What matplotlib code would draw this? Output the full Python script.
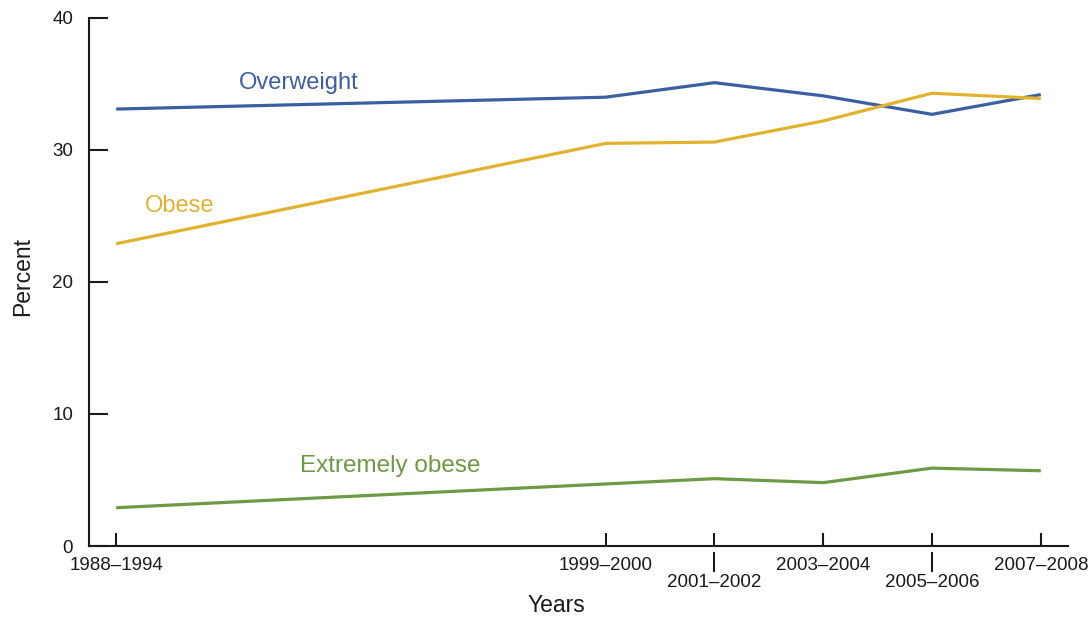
"""Overweight / obesity prevalence trend chart, 1988-1994 through 2007-2008."""

from __future__ import annotations

import matplotlib

matplotlib.use("Agg")
import matplotlib.pyplot as plt
from matplotlib.ticker import FixedLocator, FixedFormatter

plt.rcParams["font.family"] = ["Liberation Sans", "DejaVu Sans"]

# survey periods (midpoint year used as the x position)
PERIODS = ["1988–1994", "1999–2000", "2001–2002", "2003–2004", "2005–2006", "2007–2008"]
PERIOD_MID = [1990.5, 1999.5, 2001.5, 2003.5, 2005.5, 2007.5]
LOWER_LABELS = {"2001–2002", "2005–2006"}  # staggered labels

OVERWEIGHT = [33.1, 34.0, 35.1, 34.1, 32.7, 34.2]
OBESE = [22.9, 30.5, 30.6, 32.2, 34.3, 33.9]
EXTREMELY_OBESE = [2.9, 4.7, 5.1, 4.8, 5.9, 5.7]

Y_TICKS = [0, 10, 20, 30, 40]

BLUE = "#3b5fa3"
GOLD = "#e2b22f"
GREEN = "#6e9a44"
INK = "#1a1a1a"


def draw_series(ax) -> None:
    ax.plot(PERIOD_MID, OVERWEIGHT, color=BLUE, lw=2.3, solid_capstyle="butt", zorder=3)
    ax.plot(PERIOD_MID, OBESE, color=GOLD, lw=2.3, solid_capstyle="butt", zorder=3)
    ax.plot(PERIOD_MID, EXTREMELY_OBESE, color=GREEN, lw=2.3, solid_capstyle="butt", zorder=3)

    ax.text(1993.85, 34.6, "Overweight", color=BLUE, fontsize=17, ha="center", va="baseline")
    ax.text(1991.67, 25.3, "Obese", color=GOLD, fontsize=17, ha="center", va="baseline")
    ax.text(1995.54, 5.6, "Extremely obese", color=GREEN, fontsize=17.5,
            ha="center", va="baseline")


def style_axes(ax) -> None:
    ax.set_xlim(1990.0, 2008.0)
    ax.set_ylim(0, 40)

    for side in ("top", "right"):
        ax.spines[side].set_visible(False)
    for side in ("left", "bottom"):
        ax.spines[side].set_linewidth(1.5)
        ax.spines[side].set_color(INK)

    ax.set_yticks(Y_TICKS)
    ax.tick_params(axis="y", direction="in", length=13.5, width=1.5, pad=11.5,
                   labelsize=13.5, colors=INK)

    # upper row labels on the main axis, staggered ones left blank
    upper = [p if p not in LOWER_LABELS else "" for p in PERIODS]
    ax.xaxis.set_major_locator(FixedLocator(PERIOD_MID))
    ax.xaxis.set_major_formatter(FixedFormatter(upper))
    ax.tick_params(axis="x", direction="in", length=9.5, width=1.5, pad=8,
                   labelsize=13.5, colors=INK)

    # lower row: separate tick lines hanging just below the axis
    lower_pos = [m for m, p in zip(PERIOD_MID, PERIODS) if p in LOWER_LABELS]
    lower_lab = [p for p in PERIODS if p in LOWER_LABELS]
    sec = ax.secondary_xaxis(-0.0115)
    sec.spines["bottom"].set_visible(False)
    sec.set_xticks(lower_pos)
    sec.set_xticklabels(lower_lab)
    sec.tick_params(axis="x", direction="out", length=14.5, width=1.5, pad=1.5,
                    labelsize=13.5, colors=INK)

    ax.set_ylabel("Percent", fontsize=16.5, color=INK)
    ax.yaxis.set_label_coords(-0.056, 0.51)
    ax.set_xlabel("Years", fontsize=16.5, color=INK)
    ax.xaxis.set_label_coords(0.477, -0.091)


def main() -> None:
    fig = plt.figure(figsize=(10.88, 6.18), dpi=100)
    ax = fig.add_axes([0.0818, 0.1165, 0.8998, 0.8544])
    draw_series(ax)
    style_axes(ax)
    fig.savefig("out.png", dpi=100, facecolor="white")
    plt.close(fig)


if __name__ == "__main__":
    main()
